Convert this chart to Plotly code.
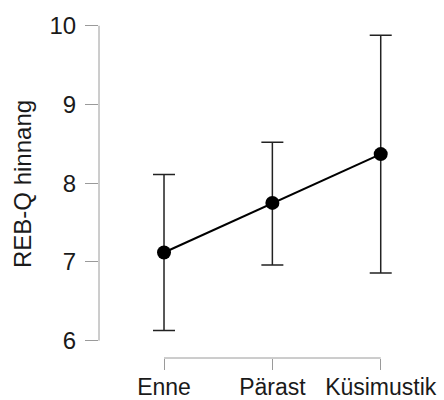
import plotly.graph_objects as go

categories = ["Enne", "Pärast", "Küsimustik"]
means = [7.12, 7.75, 8.37]
upper = [8.11, 8.52, 9.88]
lower = [6.13, 6.96, 6.86]
y_ticks = [6, 7, 8, 9, 10]
y_title = "REB-Q hinnang"

xpos = list(range(1, len(categories) + 1))
err_plus = [u - m for u, m in zip(upper, means)]
err_minus = [m - l for m, l in zip(means, lower)]

FONT = "Liberation Sans, Arial, sans-serif"
AXIS_GREY = "#9a9a9a"
INK = "#1a1a1a"

fig = go.Figure()
fig.add_trace(go.Scatter(
    x=xpos, y=means, mode="lines+markers",
    line=dict(color="black", width=2),
    marker=dict(color="black", size=14),
    error_y=dict(type="data", symmetric=False, array=err_plus, arrayminus=err_minus,
                 color="#222222", thickness=1.5, width=11),
    showlegend=False, hoverinfo="skip",
))

# R-style axis lines spanning only the tick range
fig.add_shape(type="line", xref="paper", yref="y", x0=0, x1=0,
              y0=y_ticks[0], y1=y_ticks[-1], line=dict(color=AXIS_GREY, width=1))
fig.add_shape(type="line", xref="x", yref="paper", x0=xpos[0], x1=xpos[-1],
              y0=0, y1=0, line=dict(color=AXIS_GREY, width=1))

fig.add_annotation(text=y_title, xref="paper", yref="paper", x=0, y=0.5,
                   xshift=-77, textangle=-90, showarrow=False,
                   xanchor="center", yanchor="middle",
                   font=dict(family=FONT, size=24, color=INK))

fig.update_layout(
    width=444, height=400, autosize=False,
    margin=dict(l=99, r=0, t=10, b=42, pad=0, autoexpand=False),
    paper_bgcolor="white", plot_bgcolor="white",
    font=dict(family=FONT, color=INK),
    xaxis=dict(range=[0.4, 3.584], tickvals=xpos, ticktext=categories,
               showgrid=False, zeroline=False, showline=False, automargin=False,
               ticks="outside", ticklen=11, tickcolor=AXIS_GREY, tickwidth=1,
               tickfont=dict(family=FONT, size=23, color=INK),
               ticklabelstandoff=-3),
    yaxis=dict(range=[5.78, 10.2], tickvals=y_ticks,
               showgrid=False, zeroline=False, showline=False, automargin=False,
               ticks="outside", ticklen=13, tickcolor=AXIS_GREY, tickwidth=1,
               tickfont=dict(family=FONT, size=24, color=INK),
               ticklabelstandoff=4),
)

fig.write_html("out.html", config={"displayModeBar": False},
               post_script="document.body.style.margin='0';document.body.style.overflow='hidden';")
